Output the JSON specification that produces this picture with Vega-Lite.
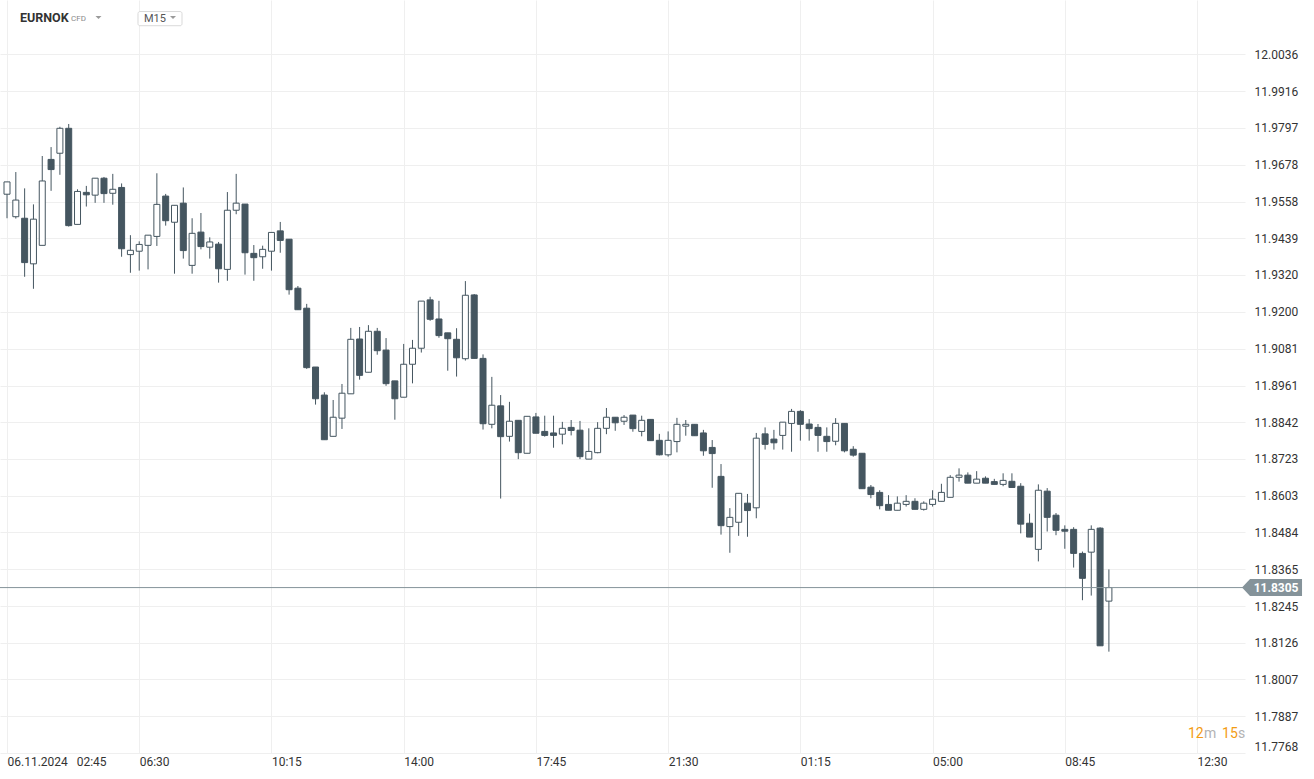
{
  "$schema": "https://vega.github.io/schema/vega-lite/v6.json",
  "width": 1245,
  "height": 753,
  "autosize": {"type": "none"},
  "padding": {"left": 0, "top": 0, "right": 69, "bottom": 26},
  "background": "#ffffff",
  "config": {"view": {"stroke": null}, "font": "Roboto", "text": {"font": "Roboto"}, "scale": {"continuousPadding": 0}},
  "resolve": {"axis": {"x": "independent", "y": "independent"}},
  "datasets": {
    "one": [{}],
    "last": [{"price": 11.8305}],
    "candles": [
      {"t":"2024-11-06T02:45Z","o":11.9582,"h":11.9622,"l":11.9504,"c":11.9622},
      {"t":"2024-11-06T03:00Z","o":11.9509,"h":11.9654,"l":11.9503,"c":11.9563},
      {"t":"2024-11-06T03:15Z","o":11.9504,"h":11.9601,"l":11.9314,"c":11.9360},
      {"t":"2024-11-06T03:30Z","o":11.9356,"h":11.9549,"l":11.9275,"c":11.9501},
      {"t":"2024-11-06T03:45Z","o":11.9416,"h":11.9706,"l":11.9416,"c":11.9625},
      {"t":"2024-11-06T04:00Z","o":11.9695,"h":11.9735,"l":11.9593,"c":11.9662},
      {"t":"2024-11-06T04:15Z","o":11.9715,"h":11.9801,"l":11.9645,"c":11.9796},
      {"t":"2024-11-06T04:30Z","o":11.9796,"h":11.9810,"l":11.9477,"c":11.9480},
      {"t":"2024-11-06T04:45Z","o":11.9484,"h":11.9598,"l":11.9484,"c":11.9591},
      {"t":"2024-11-06T05:00Z","o":11.9588,"h":11.9609,"l":11.9542,"c":11.9580},
      {"t":"2024-11-06T05:15Z","o":11.9579,"h":11.9634,"l":11.9554,"c":11.9634},
      {"t":"2024-11-06T05:30Z","o":11.9634,"h":11.9638,"l":11.9554,"c":11.9584},
      {"t":"2024-11-06T05:45Z","o":11.9585,"h":11.9648,"l":11.9548,"c":11.9598},
      {"t":"2024-11-06T06:00Z","o":11.9604,"h":11.9617,"l":11.9379,"c":11.9405},
      {"t":"2024-11-06T06:15Z","o":11.9386,"h":11.9449,"l":11.9327,"c":11.9400},
      {"t":"2024-11-06T06:30Z","o":11.9397,"h":11.9429,"l":11.9334,"c":11.9419},
      {"t":"2024-11-06T06:45Z","o":11.9416,"h":11.9449,"l":11.9338,"c":11.9449},
      {"t":"2024-11-06T07:00Z","o":11.9445,"h":11.9650,"l":11.9414,"c":11.9549},
      {"t":"2024-11-06T07:15Z","o":11.9576,"h":11.9583,"l":11.9480,"c":11.9496},
      {"t":"2024-11-06T07:30Z","o":11.9491,"h":11.9546,"l":11.9324,"c":11.9546},
      {"t":"2024-11-06T07:45Z","o":11.9553,"h":11.9604,"l":11.9373,"c":11.9399},
      {"t":"2024-11-06T08:00Z","o":11.9351,"h":11.9504,"l":11.9324,"c":11.9455},
      {"t":"2024-11-06T08:15Z","o":11.9459,"h":11.9521,"l":11.9403,"c":11.9412},
      {"t":"2024-11-06T08:30Z","o":11.9410,"h":11.9442,"l":11.9373,"c":11.9427},
      {"t":"2024-11-06T08:45Z","o":11.9420,"h":11.9427,"l":11.9295,"c":11.9340},
      {"t":"2024-11-06T09:00Z","o":11.9338,"h":11.9589,"l":11.9301,"c":11.9530},
      {"t":"2024-11-06T09:15Z","o":11.9530,"h":11.9648,"l":11.9517,"c":11.9553},
      {"t":"2024-11-06T09:30Z","o":11.9550,"h":11.9550,"l":11.9321,"c":11.9392},
      {"t":"2024-11-06T09:45Z","o":11.9390,"h":11.9417,"l":11.9301,"c":11.9376},
      {"t":"2024-11-06T10:00Z","o":11.9379,"h":11.9415,"l":11.9340,"c":11.9403},
      {"t":"2024-11-06T10:15Z","o":11.9397,"h":11.9458,"l":11.9334,"c":11.9458},
      {"t":"2024-11-06T10:30Z","o":11.9463,"h":11.9492,"l":11.9392,"c":11.9432},
      {"t":"2024-11-06T10:45Z","o":11.9436,"h":11.9436,"l":11.9256,"c":11.9272},
      {"t":"2024-11-06T11:00Z","o":11.9277,"h":11.9284,"l":11.9207,"c":11.9207},
      {"t":"2024-11-06T11:15Z","o":11.9212,"h":11.9226,"l":11.9015,"c":11.9019},
      {"t":"2024-11-06T11:30Z","o":11.9021,"h":11.9021,"l":11.8899,"c":11.8918},
      {"t":"2024-11-06T11:45Z","o":11.8930,"h":11.8939,"l":11.8785,"c":11.8785},
      {"t":"2024-11-06T12:00Z","o":11.8796,"h":11.8914,"l":11.8796,"c":11.8858},
      {"t":"2024-11-06T12:15Z","o":11.8855,"h":11.8966,"l":11.8820,"c":11.8936},
      {"t":"2024-11-06T12:30Z","o":11.8934,"h":11.9148,"l":11.8934,"c":11.9111},
      {"t":"2024-11-06T12:45Z","o":11.9112,"h":11.9151,"l":11.8980,"c":11.8994},
      {"t":"2024-11-06T13:00Z","o":11.9004,"h":11.9157,"l":11.9004,"c":11.9137},
      {"t":"2024-11-06T13:15Z","o":11.9137,"h":11.9148,"l":11.9061,"c":11.9074},
      {"t":"2024-11-06T13:30Z","o":11.9076,"h":11.9115,"l":11.8960,"c":11.8967},
      {"t":"2024-11-06T13:45Z","o":11.8976,"h":11.8976,"l":11.8850,"c":11.8918},
      {"t":"2024-11-06T14:00Z","o":11.8923,"h":11.9096,"l":11.8923,"c":11.9030},
      {"t":"2024-11-06T14:15Z","o":11.9030,"h":11.9109,"l":11.8968,"c":11.9082},
      {"t":"2024-11-06T14:30Z","o":11.9082,"h":11.9235,"l":11.9068,"c":11.9235},
      {"t":"2024-11-06T14:45Z","o":11.9239,"h":11.9249,"l":11.9171,"c":11.9176},
      {"t":"2024-11-06T15:00Z","o":11.9177,"h":11.9236,"l":11.9116,"c":11.9123},
      {"t":"2024-11-06T15:15Z","o":11.9132,"h":11.9132,"l":11.9009,"c":11.9113},
      {"t":"2024-11-06T15:30Z","o":11.9111,"h":11.9147,"l":11.8990,"c":11.9051},
      {"t":"2024-11-06T15:45Z","o":11.9048,"h":11.9300,"l":11.9042,"c":11.9254},
      {"t":"2024-11-06T16:00Z","o":11.9255,"h":11.9258,"l":11.9049,"c":11.9049},
      {"t":"2024-11-06T16:15Z","o":11.9049,"h":11.9062,"l":11.8818,"c":11.8837},
      {"t":"2024-11-06T16:30Z","o":11.8835,"h":11.8989,"l":11.8822,"c":11.8897},
      {"t":"2024-11-06T16:45Z","o":11.8895,"h":11.8930,"l":11.8594,"c":11.8795},
      {"t":"2024-11-06T17:00Z","o":11.8796,"h":11.8908,"l":11.8779,"c":11.8845},
      {"t":"2024-11-06T17:15Z","o":11.8848,"h":11.8848,"l":11.8722,"c":11.8743},
      {"t":"2024-11-06T17:30Z","o":11.8741,"h":11.8861,"l":11.8741,"c":11.8861},
      {"t":"2024-11-06T17:45Z","o":11.8859,"h":11.8872,"l":11.8806,"c":11.8806},
      {"t":"2024-11-06T18:00Z","o":11.8812,"h":11.8863,"l":11.8795,"c":11.8799},
      {"t":"2024-11-06T18:15Z","o":11.8807,"h":11.8863,"l":11.8759,"c":11.8799},
      {"t":"2024-11-06T18:30Z","o":11.8803,"h":11.8843,"l":11.8770,"c":11.8822},
      {"t":"2024-11-06T18:45Z","o":11.8825,"h":11.8849,"l":11.8799,"c":11.8815},
      {"t":"2024-11-06T19:00Z","o":11.8816,"h":11.8846,"l":11.8722,"c":11.8730},
      {"t":"2024-11-06T19:15Z","o":11.8722,"h":11.8822,"l":11.8722,"c":11.8747},
      {"t":"2024-11-06T19:30Z","o":11.8743,"h":11.8842,"l":11.8741,"c":11.8822},
      {"t":"2024-11-06T19:45Z","o":11.8822,"h":11.8888,"l":11.8803,"c":11.8858},
      {"t":"2024-11-06T20:00Z","o":11.8858,"h":11.8858,"l":11.8814,"c":11.8840},
      {"t":"2024-11-06T20:15Z","o":11.8845,"h":11.8865,"l":11.8833,"c":11.8858},
      {"t":"2024-11-06T20:30Z","o":11.8865,"h":11.8865,"l":11.8811,"c":11.8821},
      {"t":"2024-11-06T20:45Z","o":11.8812,"h":11.8863,"l":11.8796,"c":11.8848},
      {"t":"2024-11-06T21:00Z","o":11.8851,"h":11.8851,"l":11.8782,"c":11.8782},
      {"t":"2024-11-06T21:15Z","o":11.8783,"h":11.8804,"l":11.8734,"c":11.8736},
      {"t":"2024-11-06T21:30Z","o":11.8736,"h":11.8812,"l":11.8730,"c":11.8783},
      {"t":"2024-11-06T21:45Z","o":11.8779,"h":11.8856,"l":11.8744,"c":11.8835},
      {"t":"2024-11-06T22:00Z","o":11.8829,"h":11.8849,"l":11.8798,"c":11.8835},
      {"t":"2024-11-06T22:15Z","o":11.8835,"h":11.8835,"l":11.8798,"c":11.8798},
      {"t":"2024-11-06T22:30Z","o":11.8807,"h":11.8817,"l":11.8733,"c":11.8749},
      {"t":"2024-11-06T22:45Z","o":11.8760,"h":11.8784,"l":11.8629,"c":11.8740},
      {"t":"2024-11-06T23:00Z","o":11.8666,"h":11.8706,"l":11.8477,"c":11.8506},
      {"t":"2024-11-06T23:15Z","o":11.8503,"h":11.8563,"l":11.8418,"c":11.8533},
      {"t":"2024-11-06T23:30Z","o":11.8517,"h":11.8611,"l":11.8473,"c":11.8611},
      {"t":"2024-11-06T23:45Z","o":11.8579,"h":11.8609,"l":11.8470,"c":11.8555},
      {"t":"2024-11-07T00:00Z","o":11.8564,"h":11.8807,"l":11.8530,"c":11.8790},
      {"t":"2024-11-07T00:15Z","o":11.8804,"h":11.8825,"l":11.8753,"c":11.8770},
      {"t":"2024-11-07T00:30Z","o":11.8787,"h":11.8817,"l":11.8753,"c":11.8775},
      {"t":"2024-11-07T00:45Z","o":11.8799,"h":11.8842,"l":11.8753,"c":11.8842},
      {"t":"2024-11-07T01:00Z","o":11.8838,"h":11.8885,"l":11.8746,"c":11.8877},
      {"t":"2024-11-07T01:15Z","o":11.8877,"h":11.8881,"l":11.8782,"c":11.8835},
      {"t":"2024-11-07T01:30Z","o":11.8836,"h":11.8852,"l":11.8782,"c":11.8821},
      {"t":"2024-11-07T01:45Z","o":11.8825,"h":11.8836,"l":11.8746,"c":11.8799},
      {"t":"2024-11-07T02:00Z","o":11.8796,"h":11.8825,"l":11.8746,"c":11.8779},
      {"t":"2024-11-07T02:15Z","o":11.8780,"h":11.8855,"l":11.8767,"c":11.8838},
      {"t":"2024-11-07T02:30Z","o":11.8838,"h":11.8838,"l":11.8744,"c":11.8749},
      {"t":"2024-11-07T02:45Z","o":11.8754,"h":11.8764,"l":11.8730,"c":11.8735},
      {"t":"2024-11-07T03:00Z","o":11.8741,"h":11.8741,"l":11.8626,"c":11.8626},
      {"t":"2024-11-07T03:15Z","o":11.8631,"h":11.8638,"l":11.8595,"c":11.8607},
      {"t":"2024-11-07T03:30Z","o":11.8614,"h":11.8621,"l":11.8559,"c":11.8571},
      {"t":"2024-11-07T03:45Z","o":11.8575,"h":11.8605,"l":11.8556,"c":11.8556},
      {"t":"2024-11-07T04:00Z","o":11.8556,"h":11.8601,"l":11.8556,"c":11.8579},
      {"t":"2024-11-07T04:15Z","o":11.8575,"h":11.8605,"l":11.8568,"c":11.8585},
      {"t":"2024-11-07T04:30Z","o":11.8585,"h":11.8595,"l":11.8559,"c":11.8559},
      {"t":"2024-11-07T04:45Z","o":11.8559,"h":11.8585,"l":11.8555,"c":11.8579},
      {"t":"2024-11-07T05:00Z","o":11.8575,"h":11.8621,"l":11.8568,"c":11.8592},
      {"t":"2024-11-07T05:15Z","o":11.8585,"h":11.8642,"l":11.8585,"c":11.8614},
      {"t":"2024-11-07T05:30Z","o":11.8598,"h":11.8670,"l":11.8598,"c":11.8663},
      {"t":"2024-11-07T05:45Z","o":11.8663,"h":11.8692,"l":11.8649,"c":11.8670},
      {"t":"2024-11-07T06:00Z","o":11.8670,"h":11.8679,"l":11.8644,"c":11.8644},
      {"t":"2024-11-07T06:15Z","o":11.8644,"h":11.8683,"l":11.8644,"c":11.8657},
      {"t":"2024-11-07T06:30Z","o":11.8660,"h":11.8666,"l":11.8644,"c":11.8644},
      {"t":"2024-11-07T06:45Z","o":11.8649,"h":11.8658,"l":11.8640,"c":11.8640},
      {"t":"2024-11-07T07:00Z","o":11.8640,"h":11.8676,"l":11.8634,"c":11.8653},
      {"t":"2024-11-07T07:15Z","o":11.8650,"h":11.8676,"l":11.8630,"c":11.8630},
      {"t":"2024-11-07T07:30Z","o":11.8634,"h":11.8644,"l":11.8481,"c":11.8511},
      {"t":"2024-11-07T07:45Z","o":11.8514,"h":11.8545,"l":11.8469,"c":11.8469},
      {"t":"2024-11-07T08:00Z","o":11.8429,"h":11.8640,"l":11.8390,"c":11.8621},
      {"t":"2024-11-07T08:15Z","o":11.8618,"h":11.8628,"l":11.8487,"c":11.8533},
      {"t":"2024-11-07T08:30Z","o":11.8540,"h":11.8547,"l":11.8475,"c":11.8491},
      {"t":"2024-11-07T08:45Z","o":11.8494,"h":11.8507,"l":11.8431,"c":11.8488},
      {"t":"2024-11-07T09:00Z","o":11.8494,"h":11.8501,"l":11.8370,"c":11.8416},
      {"t":"2024-11-07T09:15Z","o":11.8416,"h":11.8422,"l":11.8264,"c":11.8335},
      {"t":"2024-11-07T09:30Z","o":11.8420,"h":11.8507,"l":11.8279,"c":11.8494},
      {"t":"2024-11-07T09:45Z","o":11.8498,"h":11.8501,"l":11.8116,"c":11.8116},
      {"t":"2024-11-07T10:00Z","o":11.8261,"h":11.8364,"l":11.8097,"c":11.8305}
    ]
  },
  "layer": [
    {
      "data": {"name": "candles"},
      "mark": {"type": "rule", "color": "#455660", "strokeWidth": 1},
      "encoding": {
        "x": {
          "field": "t", "type": "temporal",
          "scale": {"type": "utc", "padding": 0, "domain": [{"year":2024,"month":11,"date":6,"hours":2,"minutes":33,"seconds":5,"utc":true},{"year":2024,"month":11,"date":7,"hours":13,"minutes":51,"seconds":36,"utc":true}]},
          "axis": {
            "title": null,
            "values": [
              {"year":2024,"month":11,"date":6,"hours":2,"minutes":45,"utc":true},
              {"year":2024,"month":11,"date":6,"hours":6,"minutes":30,"utc":true},
              {"year":2024,"month":11,"date":6,"hours":10,"minutes":15,"utc":true},
              {"year":2024,"month":11,"date":6,"hours":14,"minutes":0,"utc":true},
              {"year":2024,"month":11,"date":6,"hours":17,"minutes":45,"utc":true},
              {"year":2024,"month":11,"date":6,"hours":21,"minutes":30,"utc":true},
              {"year":2024,"month":11,"date":7,"hours":1,"minutes":15,"utc":true},
              {"year":2024,"month":11,"date":7,"hours":5,"minutes":0,"utc":true},
              {"year":2024,"month":11,"date":7,"hours":8,"minutes":45,"utc":true},
              {"year":2024,"month":11,"date":7,"hours":12,"minutes":30,"utc":true}
            ],
            "labelExpr": "utcFormat(datum.value, '%d %H:%M') == '06 02:45' ? '06.11.2024\u00a0\u00a0\u00a002:45' : utcFormat(datum.value, '%H:%M')",
            "labelAlign": "left",
            "labelBaseline": "top",
            "labelDx": 1,
            "labelPadding": 3,
            "labelFlush": false,
            "labelOverlap": false,
            "ticks": false,
            "tickSize": 0,
            "domain": false,
            "grid": true,
            "gridColor": "#efefef",
            "gridWidth": 1,
            "labelColor": "#333333",
            "labelFont": "Roboto",
            "labelFontSize": 12
          }
        },
        "y": {
          "field": "l", "type": "quantitative",
          "scale": {"domain": [11.7768, 12.02125], "zero": false, "nice": false, "padding": 0},
          "axis": {
            "title": null,
            "orient": "right",
            "values": [12.0036, 11.9916, 11.9797, 11.9678, 11.9558, 11.9439, 11.9320, 11.9200, 11.9081, 11.8961, 11.8842, 11.8723, 11.8603, 11.8484, 11.8365, 11.8245, 11.8126, 11.8007, 11.7887, 11.7768],
            "format": ".4f",
            "labelPadding": 9,
            "labelFlush": true,
            "labelOverlap": false,
            "ticks": false,
            "tickSize": 0,
            "domain": false,
            "grid": true,
            "gridColor": "#efefef",
            "gridWidth": 1,
            "labelColor": "#333333",
            "labelFont": "Roboto",
            "labelFontSize": 12
          }
        },
        "y2": {"field": "h"}
      }
    },
    {
      "data": {"name": "candles"},
      "mark": {"type": "bar", "size": 6, "stroke": "#455660", "strokeWidth": 1},
      "encoding": {
        "x": {"field": "t", "type": "temporal", "scale": {"type": "utc", "padding": 0, "domain": [{"year":2024,"month":11,"date":6,"hours":2,"minutes":33,"seconds":5,"utc":true},{"year":2024,"month":11,"date":7,"hours":13,"minutes":51,"seconds":36,"utc":true}]}, "axis": null},
        "y": {"field": "o", "type": "quantitative", "scale": {"domain": [11.7768, 12.02125], "zero": false, "nice": false, "padding": 0}, "axis": null},
        "y2": {"field": "c"},
        "fill": {"condition": {"test": "datum.c >= datum.o", "value": "#ffffff"}, "value": "#455660"}
      }
    },
    {
      "data": {"name": "last"},
      "mark": {"type": "rule", "color": "#85939a", "strokeWidth": 1},
      "encoding": {
        "y": {"field": "price", "type": "quantitative", "scale": {"domain": [11.7768, 12.02125], "zero": false, "nice": false, "padding": 0}, "axis": null}
      }
    },
    {
      "data": {"name": "last"},
      "mark": {"type": "point", "shape": "M-1,0L-0.733,-0.283L1,-0.283L1,0.283L-0.733,0.283Z", "size": 3600, "filled": true, "color": "#85939a", "opacity": 1, "clip": false},
      "encoding": {
        "x": {"datum": {"year":2024,"month":11,"date":7,"hours":14,"minutes":37,"seconds":36,"utc":true}, "type": "temporal", "scale": {"type": "utc", "padding": 0, "domain": [{"year":2024,"month":11,"date":6,"hours":2,"minutes":33,"seconds":5,"utc":true},{"year":2024,"month":11,"date":7,"hours":13,"minutes":51,"seconds":36,"utc":true}]}, "axis": null},
        "y": {"field": "price", "type": "quantitative", "scale": {"domain": [11.7768, 12.02125], "zero": false, "nice": false, "padding": 0}, "axis": null}
      }
    },
    {
      "data": {"name": "last"},
      "mark": {"type": "text", "color": "#ffffff", "fontWeight": "bold", "fontSize": 12, "font": "Roboto", "align": "center", "baseline": "middle", "clip": false},
      "encoding": {
        "x": {"datum": {"year":2024,"month":11,"date":7,"hours":14,"minutes":44,"seconds":24,"utc":true}, "type": "temporal", "scale": {"type": "utc", "padding": 0, "domain": [{"year":2024,"month":11,"date":6,"hours":2,"minutes":33,"seconds":5,"utc":true},{"year":2024,"month":11,"date":7,"hours":13,"minutes":51,"seconds":36,"utc":true}]}, "axis": null},
        "y": {"field": "price", "type": "quantitative", "scale": {"domain": [11.7768, 12.02125], "zero": false, "nice": false, "padding": 0}, "axis": null},
        "text": {"field": "price", "type": "quantitative", "format": ".4f"}
      }
    },
    {
      "data": {"name": "one"},
      "mark": {"type": "text", "text": "12", "color": "#f39c12", "fontSize": 14, "font": "Roboto", "align": "left", "baseline": "middle"},
      "encoding": {
        "x": {"datum": {"year":2024,"month":11,"date":7,"hours":12,"minutes":14,"seconds":36,"utc":true}, "type": "temporal", "scale": {"type": "utc", "padding": 0, "domain": [{"year":2024,"month":11,"date":6,"hours":2,"minutes":33,"seconds":5,"utc":true},{"year":2024,"month":11,"date":7,"hours":13,"minutes":51,"seconds":36,"utc":true}]}, "axis": null},
        "y": {"datum": 11.78297, "type": "quantitative", "scale": {"domain": [11.7768, 12.02125], "zero": false, "nice": false, "padding": 0}, "axis": null}
      }
    },
    {
      "data": {"name": "one"},
      "mark": {"type": "text", "text": "m", "color": "#b3b3b3", "fontSize": 14, "font": "Roboto", "align": "left", "baseline": "middle"},
      "encoding": {
        "x": {"datum": {"year":2024,"month":11,"date":7,"hours":12,"minutes":41,"seconds":54,"utc":true}, "type": "temporal", "scale": {"type": "utc", "padding": 0, "domain": [{"year":2024,"month":11,"date":6,"hours":2,"minutes":33,"seconds":5,"utc":true},{"year":2024,"month":11,"date":7,"hours":13,"minutes":51,"seconds":36,"utc":true}]}, "axis": null},
        "y": {"datum": 11.78297, "type": "quantitative", "scale": {"domain": [11.7768, 12.02125], "zero": false, "nice": false, "padding": 0}, "axis": null}
      }
    },
    {
      "data": {"name": "one"},
      "mark": {"type": "text", "text": "15", "color": "#f39c12", "fontSize": 14, "font": "Roboto", "align": "left", "baseline": "middle"},
      "encoding": {
        "x": {"datum": {"year":2024,"month":11,"date":7,"hours":13,"minutes":12,"seconds":30,"utc":true}, "type": "temporal", "scale": {"type": "utc", "padding": 0, "domain": [{"year":2024,"month":11,"date":6,"hours":2,"minutes":33,"seconds":5,"utc":true},{"year":2024,"month":11,"date":7,"hours":13,"minutes":51,"seconds":36,"utc":true}]}, "axis": null},
        "y": {"datum": 11.78297, "type": "quantitative", "scale": {"domain": [11.7768, 12.02125], "zero": false, "nice": false, "padding": 0}, "axis": null}
      }
    },
    {
      "data": {"name": "one"},
      "mark": {"type": "text", "text": "s", "color": "#b3b3b3", "fontSize": 14, "font": "Roboto", "align": "left", "baseline": "middle"},
      "encoding": {
        "x": {"datum": {"year":2024,"month":11,"date":7,"hours":13,"minutes":39,"seconds":42,"utc":true}, "type": "temporal", "scale": {"type": "utc", "padding": 0, "domain": [{"year":2024,"month":11,"date":6,"hours":2,"minutes":33,"seconds":5,"utc":true},{"year":2024,"month":11,"date":7,"hours":13,"minutes":51,"seconds":36,"utc":true}]}, "axis": null},
        "y": {"datum": 11.78297, "type": "quantitative", "scale": {"domain": [11.7768, 12.02125], "zero": false, "nice": false, "padding": 0}, "axis": null}
      }
    },
    {
      "data": {"name": "one"},
      "mark": {"type": "rect", "fill": "#ffffff", "stroke": "#d9d9d9", "strokeWidth": 1, "cornerRadius": 2},
      "encoding": {
        "x": {"datum": {"year":2024,"month":11,"date":6,"hours":6,"minutes":27,"seconds":54,"utc":true}, "type": "temporal", "scale": {"type": "utc", "padding": 0, "domain": [{"year":2024,"month":11,"date":6,"hours":2,"minutes":33,"seconds":5,"utc":true},{"year":2024,"month":11,"date":7,"hours":13,"minutes":51,"seconds":36,"utc":true}]}, "axis": null},
        "x2": {"datum": {"year":2024,"month":11,"date":6,"hours":7,"minutes":42,"seconds":48,"utc":true}},
        "y": {"datum": 12.0175, "type": "quantitative", "scale": {"domain": [11.7768, 12.02125], "zero": false, "nice": false, "padding": 0}, "axis": null},
        "y2": {"datum": 12.0129}
      }
    },
    {
      "data": {"name": "one"},
      "mark": {"type": "text", "text": "EURNOK", "color": "#333333", "fontSize": 12.5, "fontWeight": "bold", "font": "Roboto", "align": "left", "baseline": "middle"},
      "encoding": {
        "x": {"datum": {"year":2024,"month":11,"date":6,"hours":3,"minutes":7,"seconds":6,"utc":true}, "type": "temporal", "scale": {"type": "utc", "padding": 0, "domain": [{"year":2024,"month":11,"date":6,"hours":2,"minutes":33,"seconds":5,"utc":true},{"year":2024,"month":11,"date":7,"hours":13,"minutes":51,"seconds":36,"utc":true}]}, "axis": null},
        "y": {"datum": 12.0154, "type": "quantitative", "scale": {"domain": [11.7768, 12.02125], "zero": false, "nice": false, "padding": 0}, "axis": null}
      }
    },
    {
      "data": {"name": "one"},
      "mark": {"type": "text", "text": "CFD", "color": "#8a8a8a", "fontSize": 8, "font": "Roboto", "align": "left", "baseline": "middle"},
      "encoding": {
        "x": {"datum": {"year":2024,"month":11,"date":6,"hours":4,"minutes":33,"seconds":54,"utc":true}, "type": "temporal", "scale": {"type": "utc", "padding": 0, "domain": [{"year":2024,"month":11,"date":6,"hours":2,"minutes":33,"seconds":5,"utc":true},{"year":2024,"month":11,"date":7,"hours":13,"minutes":51,"seconds":36,"utc":true}]}, "axis": null},
        "y": {"datum": 12.0152, "type": "quantitative", "scale": {"domain": [11.7768, 12.02125], "zero": false, "nice": false, "padding": 0}, "axis": null}
      }
    },
    {
      "data": {"name": "one"},
      "mark": {"type": "point", "shape": "M-1,-0.5L1,-0.5L0,0.5Z", "size": 36, "filled": true, "color": "#9a9a9a", "opacity": 1},
      "encoding": {
        "x": {"datum": {"year":2024,"month":11,"date":6,"hours":5,"minutes":20,"seconds":42,"utc":true}, "type": "temporal", "scale": {"type": "utc", "padding": 0, "domain": [{"year":2024,"month":11,"date":6,"hours":2,"minutes":33,"seconds":5,"utc":true},{"year":2024,"month":11,"date":7,"hours":13,"minutes":51,"seconds":36,"utc":true}]}, "axis": null},
        "y": {"datum": 12.0156, "type": "quantitative", "scale": {"domain": [11.7768, 12.02125], "zero": false, "nice": false, "padding": 0}, "axis": null}
      }
    },
    {
      "data": {"name": "one"},
      "mark": {"type": "text", "text": "M15", "color": "#555555", "fontSize": 11, "font": "Roboto", "align": "left", "baseline": "middle"},
      "encoding": {
        "x": {"datum": {"year":2024,"month":11,"date":6,"hours":6,"minutes":38,"seconds":6,"utc":true}, "type": "temporal", "scale": {"type": "utc", "padding": 0, "domain": [{"year":2024,"month":11,"date":6,"hours":2,"minutes":33,"seconds":5,"utc":true},{"year":2024,"month":11,"date":7,"hours":13,"minutes":51,"seconds":36,"utc":true}]}, "axis": null},
        "y": {"datum": 12.0152, "type": "quantitative", "scale": {"domain": [11.7768, 12.02125], "zero": false, "nice": false, "padding": 0}, "axis": null}
      }
    },
    {
      "data": {"name": "one"},
      "mark": {"type": "point", "shape": "M-1,-0.5L1,-0.5L0,0.5Z", "size": 36, "filled": true, "color": "#9a9a9a", "opacity": 1},
      "encoding": {
        "x": {"datum": {"year":2024,"month":11,"date":6,"hours":7,"minutes":27,"seconds":30,"utc":true}, "type": "temporal", "scale": {"type": "utc", "padding": 0, "domain": [{"year":2024,"month":11,"date":6,"hours":2,"minutes":33,"seconds":5,"utc":true},{"year":2024,"month":11,"date":7,"hours":13,"minutes":51,"seconds":36,"utc":true}]}, "axis": null},
        "y": {"datum": 12.0156, "type": "quantitative", "scale": {"domain": [11.7768, 12.02125], "zero": false, "nice": false, "padding": 0}, "axis": null}
      }
    }
  ]
}
